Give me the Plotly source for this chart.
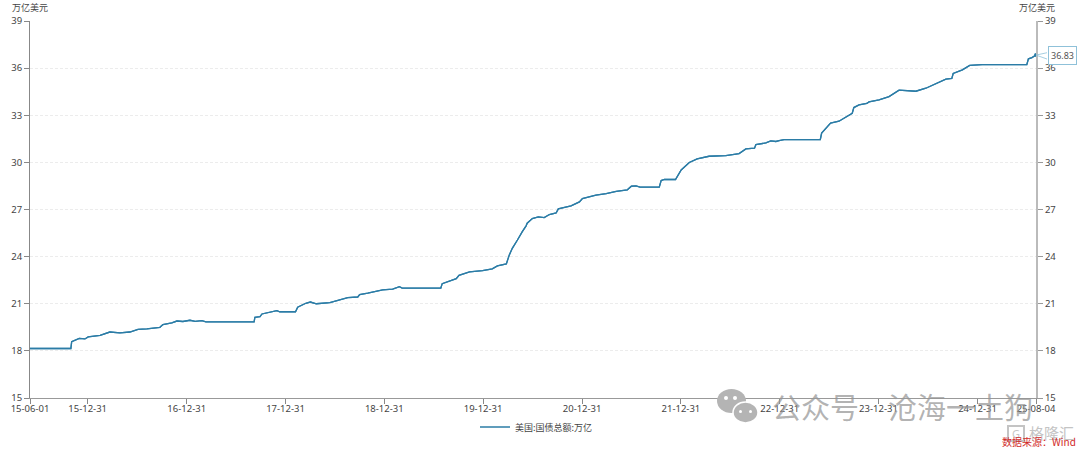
import plotly.graph_objects as go

dates = ["2015-06-01","2015-10-30","2015-11-02","2015-11-30","2015-12-21","2016-01-02","2016-02-15","2016-03-22","2016-04-28","2016-06-04",
"2016-07-04","2016-08-06","2016-09-23","2016-10-04","2016-11-06","2016-11-25","2016-12-17","2017-01-12","2017-01-31","2017-02-25",
"2017-03-12","2017-09-06","2017-09-09","2017-09-28","2017-10-05","2017-11-04","2017-11-29","2017-12-10","2018-02-06","2018-02-14",
"2018-03-16","2018-04-02","2018-04-24","2018-06-13","2018-07-12","2018-08-18","2018-09-24","2018-10-01","2018-10-31","2018-12-03",
"2018-12-25","2019-01-31","2019-02-25","2019-03-07","2019-07-28","2019-08-02","2019-09-23","2019-10-03","2019-11-11","2019-12-29",
"2020-02-03","2020-02-22","2020-03-26","2020-04-06","2020-04-17","2020-05-06","2020-05-13","2020-05-24","2020-06-07","2020-06-11",
"2020-06-30","2020-07-22","2020-08-13","2020-09-01","2020-09-26","2020-10-04","2020-11-20","2020-12-21","2021-01-01","2021-02-20",
"2021-03-30","2021-05-06","2021-06-16","2021-07-01","2021-07-18","2021-08-02","2021-10-12","2021-10-19","2021-10-31","2021-12-11",
"2022-01-01","2022-01-31","2022-03-01","2022-04-14","2022-06-15","2022-08-03","2022-08-28","2022-09-29","2022-10-04","2022-11-10",
"2022-11-28","2022-12-17","2022-12-29","2023-01-16","2023-05-30","2023-06-04","2023-07-07","2023-08-07","2023-09-25","2023-10-01",
"2023-10-20","2023-11-18","2023-11-26","2024-01-02","2024-02-08","2024-03-16","2024-05-17","2024-06-23","2024-09-05","2024-09-27",
"2024-10-02","2024-11-05","2024-12-02","2025-01-17","2025-07-01","2025-07-07","2025-07-20","2025-08-04"]

debt = [18.15,18.15,18.59,18.80,18.76,18.89,18.99,19.20,19.14,19.20,
19.37,19.40,19.50,19.67,19.78,19.90,19.87,19.95,19.88,19.92,
19.84,19.84,20.14,20.18,20.35,20.46,20.56,20.49,20.49,20.78,
21.03,21.11,21.00,21.07,21.20,21.39,21.43,21.58,21.67,21.82,
21.88,21.93,22.09,22.00,22.00,22.28,22.60,22.81,23.03,23.11,
23.22,23.41,23.54,24.11,24.53,25.06,25.28,25.59,25.96,26.13,
26.42,26.53,26.48,26.68,26.78,27.04,27.23,27.48,27.70,27.91,
28.01,28.16,28.25,28.48,28.50,28.42,28.42,28.84,28.91,28.91,
29.52,29.99,30.22,30.39,30.43,30.56,30.86,30.90,31.13,31.24,
31.37,31.33,31.39,31.45,31.45,31.86,32.50,32.62,33.13,33.49,
33.66,33.75,33.85,33.98,34.19,34.60,34.53,34.72,35.30,35.34,
35.66,35.89,36.17,36.22,36.22,36.59,36.67,36.83]

x_tick_vals = ["2015-06-01","2015-12-31","2016-12-31","2017-12-31","2018-12-31","2019-12-31",
               "2020-12-31","2021-12-31","2022-12-31","2023-12-31","2024-12-31","2025-08-04"]
x_tick_text = ["15-06-01","15-12-31","16-12-31","17-12-31","18-12-31","19-12-31",
               "20-12-31","21-12-31","22-12-31","23-12-31","24-12-31","25-08-04"]
y_ticks = [15, 18, 21, 24, 27, 30, 33, 36, 39]
series_name = "美国:国债总额:万亿"
unit = "万亿美元"

FONT = "Noto Sans, Noto Sans CJK SC, sans-serif"
CJK = "Noto Sans CJK SC, sans-serif"
LINE = "#2b7ca6"
WM = "rgba(150,150,150,0.72)"
W, H = 1080, 450
L, R, T, B = 30, 44, 21, 52

def px(v): return (v - L) / (W - L - R)
def py(v): return 1 - (v - T) / (H - T - B)
def ell(x0, x1, y0, y1, fill, **kw):
    return dict(type="circle", xref="paper", yref="paper", x0=px(x0), x1=px(x1), y0=py(y1), y1=py(y0),
                fillcolor=fill, line_width=0, layer="above", **kw)

fig = go.Figure()
fig.add_trace(go.Scatter(x=dates, y=debt, mode="lines", name=series_name,
                         line=dict(color=LINE, width=1.3)))
fig.add_trace(go.Scatter(x=dates, y=debt, mode="lines", yaxis="y2", showlegend=False, hoverinfo="skip",
                         line=dict(color=LINE, width=1.3)))
fig.add_trace(go.Scatter(x=dates[-1:], y=debt[-1:], mode="markers", showlegend=False, hoverinfo="skip",
                         marker=dict(color=LINE, size=4)))

tick_font = dict(family=FONT, size=9.5, color="#444444")
yax = dict(range=[15, 39], tickmode="array", tickvals=y_ticks, ticktext=[str(t) for t in y_ticks],
           ticks="outside", ticklen=5, tickwidth=1, tickfont=tick_font, zeroline=False)

fig.update_layout(
    width=W, height=H, autosize=False,
    margin=dict(l=L, r=R, t=T, b=B, pad=0, autoexpand=False),
    paper_bgcolor="white", plot_bgcolor="white",
    xaxis=dict(type="date", range=[dates[0], dates[-1]], tickmode="array",
               tickvals=x_tick_vals, ticktext=x_tick_text, ticks="outside", ticklen=5, tickwidth=1,
               tickcolor="#888888", showline=True, linecolor="#999999", linewidth=1,
               showgrid=False, zeroline=False, tickfont=tick_font, tickangle=0, ticklabelstandoff=-3),
    yaxis=dict(**yax, side="left", showline=True, linecolor="#888888", linewidth=1, tickcolor="#888888",
               showgrid=True, gridcolor="#ececec", griddash="3px,2px", gridwidth=1),
    yaxis2=dict(**yax, side="right", overlaying="y", showline=True, linecolor="#bbbbbb", linewidth=2,
                tickcolor="#999999", showgrid=False),
    showlegend=True,
    legend=dict(orientation="h", x=px(475), xanchor="left", y=py(427), yanchor="middle",
                font=dict(family=CJK, size=9, color="#444444"), bgcolor="rgba(0,0,0,0)",
                itemwidth=30, tracegroupgap=0),
    shapes=[
        ell(717, 746, 389, 413, "#b4b4b4"),
        dict(type="circle", xref="paper", yref="paper", x0=px(733), x1=px(758), y0=py(423), y1=py(402),
             fillcolor="#b4b4b4", line=dict(color="white", width=1.5), layer="above"),
        ell(724, 728, 396, 400, "white"), ell(733, 737, 396, 400, "white"),
        ell(739, 742, 410, 413, "white"), ell(749, 752, 410, 413, "white"),
        dict(type="rect", xref="paper", yref="paper", x0=px(1008), x1=px(1024), y0=py(441), y1=py(426),
             fillcolor="rgba(0,0,0,0)", line=dict(color="#c4c4c4", width=2), layer="above"),
    ],
    annotations=[
        dict(text="公众号\u3000沧海一土狗", xref="paper", yref="paper", x=px(902), y=py(406), xanchor="center", yanchor="middle",
             showarrow=False, font=dict(family=CJK, size=29, color=WM)),
        dict(text=unit, xref="paper", yref="paper", x=px(30), y=py(8), xanchor="center", yanchor="middle",
             showarrow=False, font=dict(family=CJK, size=9, color="#444444")),
        dict(text=unit, xref="paper", yref="paper", x=px(1037), y=py(8), xanchor="center", yanchor="middle",
             showarrow=False, font=dict(family=CJK, size=9, color="#444444")),
        dict(text=" ", x=dates[-1], y=debt[-1], xref="x", yref="y", showarrow=True, arrowhead=0, arrowwidth=0.8,
             arrowcolor="#8fc1d9", ax=14, ay=-3, axref="pixel", ayref="pixel"),
        dict(text=" ", x=dates[-1], y=debt[-1], xref="x", yref="y", showarrow=True, arrowhead=0, arrowwidth=0.8,
             arrowcolor="#8fc1d9", ax=14, ay=5, axref="pixel", ayref="pixel"),
        dict(text=str(debt[-1]), xref="paper", yref="paper", x=px(1062), y=py(55.5), xanchor="center", yanchor="middle",
             showarrow=False, bgcolor="white", bordercolor="#8fc1d9", borderwidth=1, borderpad=2,
             font=dict(family=FONT, size=9, color="#555555")),
        dict(text="格隆汇", xref="paper", yref="paper", x=px(1051), y=py(432), xanchor="center", yanchor="middle",
             showarrow=False, font=dict(family=CJK, size=15, color="#c4c4c4")),
        dict(text="G", xref="paper", yref="paper", x=px(1016), y=py(433), xanchor="center", yanchor="middle",
             showarrow=False, font=dict(family=FONT, size=11, color="#c4c4c4")),
        dict(text="数据来源：Wind", xref="paper", yref="paper", x=px(1039), y=py(442), xanchor="center", yanchor="middle",
             showarrow=False, font=dict(family=CJK, size=10, color="#d22a2a")),
    ],
)
fig.write_html("out.html", config=dict(displayModeBar=False),
               post_script="document.body.style.margin='0';document.body.style.overflow='hidden';")
